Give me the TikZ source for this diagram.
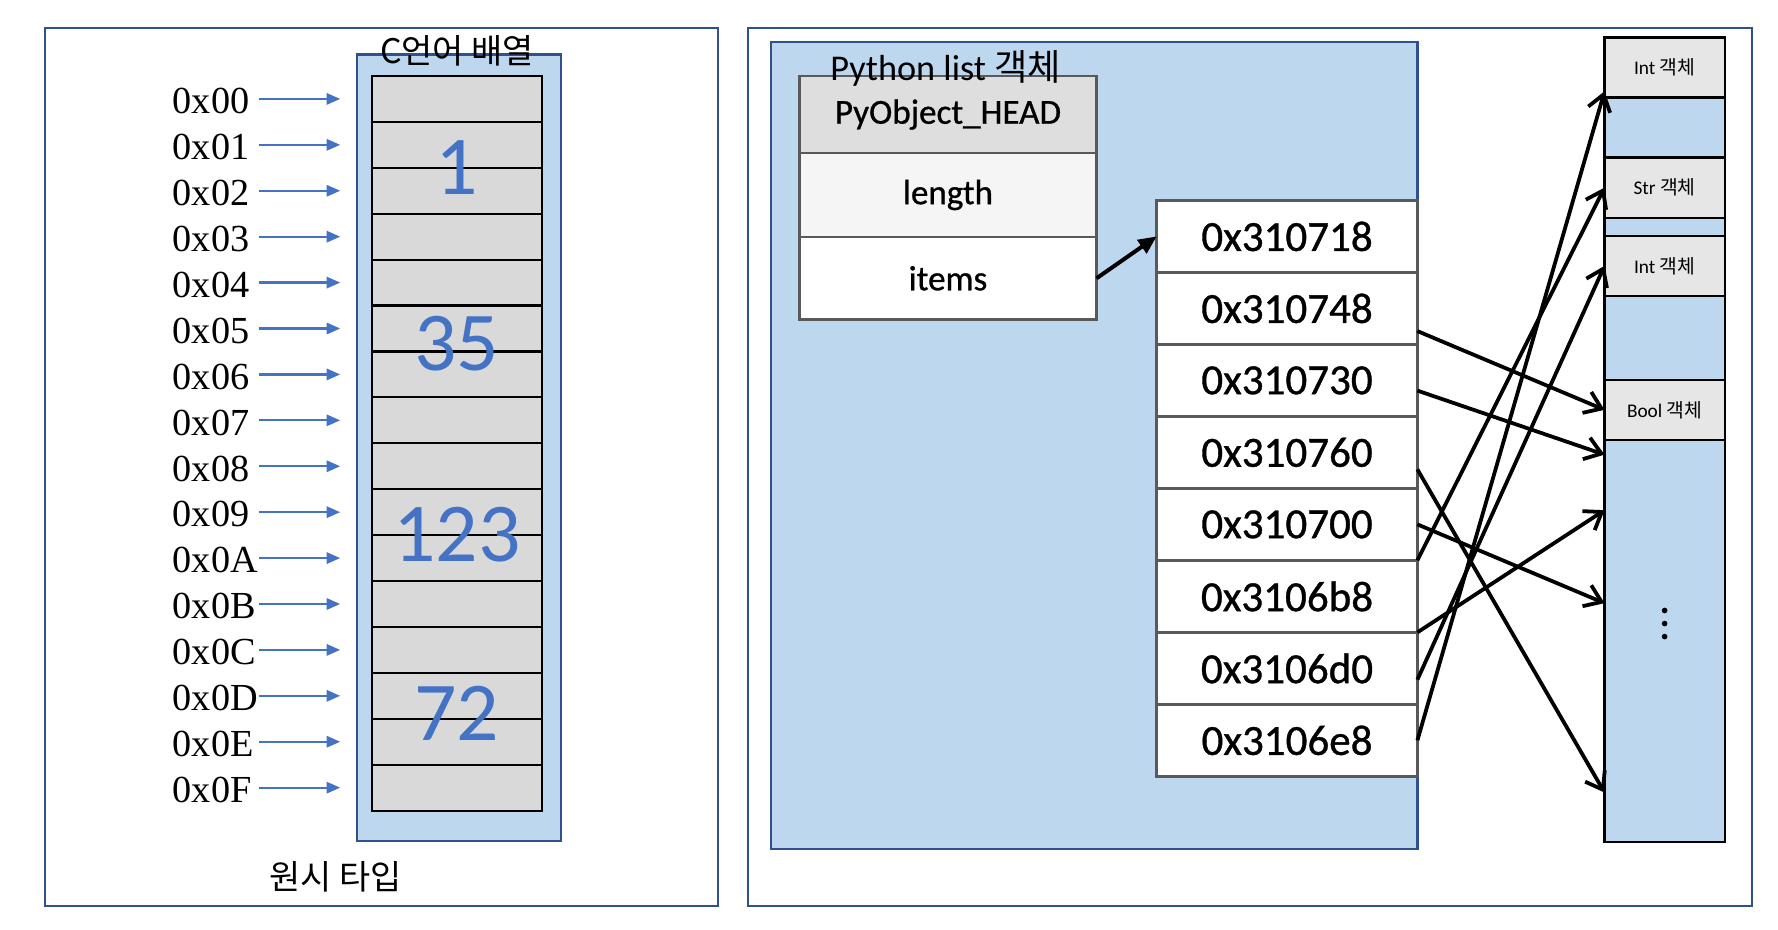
\documentclass[tikz,border=0pt]{standalone}
\usepackage{fontspec}
\setmainfont{Carlito}
\newfontfamily\krfont{Noto Sans CJK KR}
\newfontfamily\hexfont{Liberation Serif}
\newfontfamily\boxfont{Carlito}[FakeBold=0.8]
\newcommand{\hangul}[1]{{\krfont #1}}
\usetikzlibrary{arrows.meta,positioning,calc}

\definecolor{frameblue}{HTML}{2F528F}
\definecolor{lightblue}{HTML}{BDD7EE}
\definecolor{cellgray}{HTML}{D9D9D9}
\definecolor{objgray}{HTML}{E7E6E6}
\definecolor{headgray}{HTML}{DEDEDE}
\definecolor{lengray}{HTML}{F5F5F5}
\definecolor{numblue}{HTML}{4472C4}
\definecolor{rowgray}{HTML}{595959}

\tikzset{
  framebox/.style={draw=frameblue, line width=1.1pt},
  bluebox/.style={draw=frameblue, fill=lightblue, line width=1.1pt},
  bytecell/.style={draw, fill=cellgray, line width=1.1pt, minimum width=3cm, minimum height=0.81cm, inner sep=0pt, outer sep=0pt},
  hexlabel/.style={font=\hexfont\fontsize{19.2}{21}\selectfont, inner sep=0pt, anchor=west},
  hexarrow/.style={-{Triangle[length=2.4mm,width=2mm]}, numblue, line width=1.1pt},
  bignum/.style={font=\fontsize{42}{46}\selectfont, text=numblue, inner sep=0pt},
  krtitle/.style={font=\krfont\fontsize{17}{20}\selectfont, inner sep=0pt},
  fieldrow/.style={draw=rowgray, line width=1.3pt, minimum width=5.24cm, inner sep=0pt, outer sep=0pt, font=\boxfont\fontsize{17.6}{20}\selectfont},
  ptrrow/.style={draw=rowgray, fill=white, line width=1.4pt, minimum width=4.6cm, minimum height=1.27cm, inner sep=0pt, outer sep=0pt, font=\boxfont\fontsize{21.6}{24}\selectfont},
  objcell/.style={draw, fill=objgray, line width=1.1pt, minimum width=2.12cm, minimum height=1.06cm, inner sep=0pt, outer sep=0pt, font=\fontsize{9.7}{12}\selectfont},
  gapcell/.style={draw, fill=lightblue, line width=1.1pt, minimum width=2.12cm, inner sep=0pt, outer sep=0pt},
  ptrarrow/.style={-{Straight Barb[length=2.8mm,width=4mm]}, line width=1.9pt},
}

\begin{document}
\begin{tikzpicture}[x=0.02cm, y=-0.02cm]
  \useasboundingbox (0,0) rectangle (1568,820);

  % primitive type: C array
  \draw[framebox] (40,25) rectangle (633,799);
  \node[bluebox, minimum width=3.6cm, minimum height=13.88cm, inner sep=0pt] (carray) at (405,395) {};
  \node[bytecell] (c0) at (403,87.25) {};
  \foreach \i in {1,...,15} {
    \pgfmathtruncatemacro\prev{\i-1}
    \node[bytecell, below=0pt of c\prev] (c\i) {};
  }
  \foreach \h [count=\i from 0] in {0,1,2,3,4,5,6,7,8,9,A,B,C,D,E,F} {
    \node[hexlabel] (l\i) at ($(c\i.west)+(-176,2)$) {0x0\h};
    \coordinate (s\i) at ($(c\i.west)+(-100,0)$);
    \coordinate (t\i) at ($(c\i.west)+(-28,0)$);
    \draw[hexarrow] (s\i) -- (t\i);
  }

  \node[bignum] (v1) at (c1.south) {1};
  \node[bignum] (v2) at ($(c5.south)+(0,-7)$) {35};
  \node[bignum] (v3) at (c9.south) {123};
  \node[bignum] (v4) at ($(c13.south)+(0,-5)$) {72};

  \node[krtitle] (ctitle) at (403,45) {C언어 배열};
  \node[krtitle] (ptitle) at (296,773) {원시 타입};

  % python list object
  \draw[framebox] (660,25) rectangle (1545,799);
  \draw[bluebox] (680,37) rectangle (1250,749);
  \node[fieldrow, fill=headgray, minimum height=1.36cm] (head) at (836,101) {PyObject\_HEAD};
  \node[fieldrow, fill=lengray, minimum height=1.48cm, below=0pt of head] (len) {length};
  \node[fieldrow, fill=white, minimum height=1.46cm, below=0pt of len] (items) {items};
  \node[font=\fontsize{18.2}{20}\selectfont, inner sep=0pt] (ltitle) at (834,60) {Python list \hangul{객체}};

  \node[ptrrow] (a1) at (1135,208.5) {0x310718};
  \foreach \v [count=\i from 2] in {310748,310730,310760,310700,3106b8,3106d0,3106e8} {
    \pgfmathtruncatemacro\prev{\i-1}
    \node[ptrrow, below=0pt of a\prev] (a\i) {0x\v};
  }
  \draw[-{Triangle[length=3.2mm,width=2.8mm]}, line width=2pt] (items.east) -- (a1.west);

  % objects on the heap
  \node[objcell] (o1) at (1468,59.5) {Int \hangul{객체}};
  \node[gapcell, minimum height=1.06cm, below=0pt of o1] (g1) {};
  \node[objcell, below=0pt of g1] (o2) {Str \hangul{객체}};
  \node[gapcell, minimum height=0.32cm, below=0pt of o2] (g2) {};
  \node[objcell, below=0pt of g2] (o3) {Int \hangul{객체}};
  \node[gapcell, minimum height=1.48cm, below=0pt of o3] (g3) {};
  \node[objcell, below=0pt of g3] (o4) {Bool \hangul{객체}};
  \node[gapcell, minimum height=7.1cm, below=0pt of o4] (g4) {};
  \foreach \d in {-27,-15.5,-4}
    \fill ($(g4.center)+(0,\d)$) circle[radius=0.05cm];

  \draw[ptrarrow] ($(a2.east)+(0,20)$) -- (o4.west);
  \draw[ptrarrow] ($(a3.east)+(0,9)$) -- ($(g4.north west)+(0,13)$);
  \draw[ptrarrow] ($(a4.east)+(0,15)$) -- ($(g4.north west)+(0,311)$);
  \draw[ptrarrow] (a5.east) -- ($(g4.north west)+(0,144)$);
  \draw[ptrarrow] (a5.south east) -- (o2.west);
  \draw[ptrarrow] (a6.south east) -- ($(g4.north west)+(0,62)$);
  \draw[ptrarrow] ($(a7.east)+(0,10)$) -- (o3.west);
  \draw[ptrarrow] (a8.east) -- ($(o1.west)+(0,21)$);
\end{tikzpicture}
\end{document}
